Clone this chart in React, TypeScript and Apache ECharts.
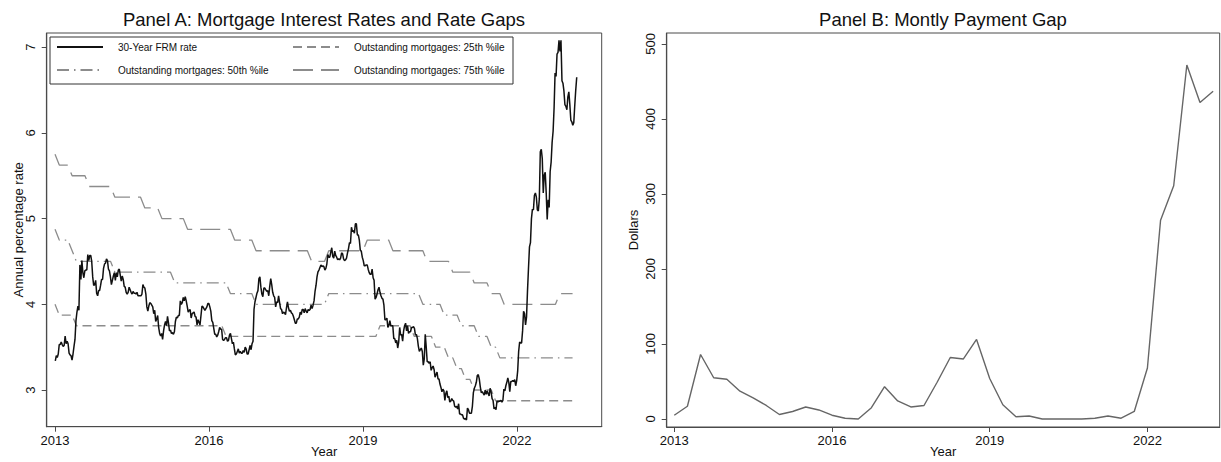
import { useEffect, useRef } from 'react';
import * as echarts from 'echarts';

const FONT = '"Liberation Sans", Arial, sans-serif';

// 30-year FRM, weekly (Thursdays), starting 2013-01-03
const FRM_2013 = [
  3.34, 3.40, 3.38, 3.42, 3.53, 3.53, 3.56, 3.53, 3.51, 3.52, 3.63, 3.54, 3.57,
  3.54, 3.43, 3.41, 3.40, 3.35, 3.42, 3.51, 3.59, 3.81, 3.91, 3.98, 3.93, 4.46,
  4.29, 4.51, 4.37, 4.31, 4.39, 4.40, 4.40, 4.58, 4.51, 4.57, 4.57, 4.50, 4.32,
  4.22, 4.23, 4.28, 4.13, 4.10, 4.16, 4.16, 4.22, 4.29, 4.29, 4.42, 4.47, 4.48,
];
const FRM_2014 = [
  4.53, 4.51, 4.41, 4.39, 4.32, 4.23, 4.28, 4.33, 4.37, 4.28, 4.37, 4.32, 4.40,
  4.41, 4.34, 4.27, 4.33, 4.29, 4.21, 4.20, 4.14, 4.12, 4.14, 4.20, 4.17, 4.14,
  4.12, 4.15, 4.13, 4.13, 4.12, 4.14, 4.10, 4.10, 4.10, 4.10, 4.12, 4.23, 4.20,
  4.19, 4.12, 3.97, 3.92, 3.98, 4.02, 4.01, 3.99, 3.97, 3.89, 3.93, 3.80, 3.83,
];
const FRM_2015 = [
  3.87, 3.73, 3.66, 3.63, 3.66, 3.59, 3.69, 3.76, 3.80, 3.75, 3.86, 3.78, 3.69,
  3.70, 3.66, 3.67, 3.65, 3.68, 3.80, 3.85, 3.84, 3.87, 3.87, 4.04, 4.00, 4.02,
  4.08, 4.04, 4.09, 4.04, 3.98, 3.91, 3.93, 3.94, 3.84, 3.89, 3.90, 3.91, 3.86,
  3.85, 3.76, 3.82, 3.79, 3.76, 3.87, 3.98, 3.97, 3.95, 3.93, 3.95, 3.97, 4.01, 4.01,
];
const FRM_2016 = [
  3.97, 3.92, 3.81, 3.79, 3.72, 3.65, 3.65, 3.62, 3.64, 3.68, 3.73, 3.71, 3.71,
  3.59, 3.58, 3.59, 3.61, 3.61, 3.57, 3.58, 3.64, 3.66, 3.60, 3.54, 3.56, 3.48,
  3.41, 3.42, 3.45, 3.48, 3.43, 3.45, 3.43, 3.43, 3.46, 3.44, 3.50, 3.48, 3.42,
  3.42, 3.47, 3.52, 3.47, 3.54, 3.57, 3.94, 4.03, 4.08, 4.13, 4.16, 4.30, 4.32,
];
const FRM_2017 = [
  4.20, 4.12, 4.09, 4.19, 4.19, 4.17, 4.15, 4.16, 4.10, 4.21, 4.30, 4.23, 4.14,
  4.10, 4.08, 3.97, 4.03, 4.02, 4.10, 4.02, 3.95, 3.94, 3.89, 3.91, 3.90, 3.88,
  3.96, 4.03, 3.96, 3.92, 3.93, 3.90, 3.89, 3.86, 3.82, 3.78, 3.78, 3.83, 3.83,
  3.85, 3.91, 3.88, 3.94, 3.94, 3.90, 3.95, 3.92, 3.90, 3.94, 3.93, 3.94, 3.99,
];
const FRM_2018 = [
  3.95, 3.99, 4.04, 4.15, 4.22, 4.32, 4.38, 4.40, 4.43, 4.46, 4.44, 4.45, 4.44,
  4.40, 4.42, 4.47, 4.58, 4.55, 4.55, 4.61, 4.66, 4.56, 4.54, 4.62, 4.57, 4.55,
  4.52, 4.53, 4.52, 4.54, 4.60, 4.59, 4.53, 4.51, 4.52, 4.54, 4.60, 4.65, 4.72,
  4.71, 4.90, 4.85, 4.86, 4.83, 4.94, 4.94, 4.81, 4.81, 4.75, 4.63, 4.62, 4.55,
];
const FRM_2019 = [
  4.51, 4.45, 4.45, 4.46, 4.46, 4.41, 4.37, 4.35, 4.35, 4.41, 4.31, 4.28, 4.06,
  4.08, 4.12, 4.17, 4.20, 4.14, 4.10, 4.07, 4.06, 3.99, 3.82, 3.82, 3.84, 3.73,
  3.75, 3.81, 3.75, 3.75, 3.75, 3.60, 3.60, 3.55, 3.58, 3.49, 3.56, 3.73, 3.64,
  3.65, 3.57, 3.69, 3.75, 3.78, 3.69, 3.75, 3.66, 3.68, 3.68, 3.73, 3.73, 3.74,
];
const FRM_2020 = [
  3.72, 3.64, 3.65, 3.60, 3.51, 3.45, 3.47, 3.49, 3.45, 3.29, 3.36, 3.65, 3.50,
  3.33, 3.33, 3.31, 3.33, 3.23, 3.26, 3.28, 3.24, 3.15, 3.18, 3.21, 3.13, 3.13,
  3.07, 3.03, 2.98, 3.01, 2.99, 2.88, 2.96, 2.99, 2.91, 2.93, 2.86, 2.87, 2.90,
  2.88, 2.87, 2.81, 2.80, 2.81, 2.78, 2.84, 2.72, 2.72, 2.71, 2.71, 2.67, 2.66, 2.67,
];
const FRM_2021 = [
  2.65, 2.79, 2.77, 2.73, 2.73, 2.73, 2.81, 2.97, 3.02, 3.05, 3.09, 3.17, 3.18,
  3.13, 3.04, 2.97, 2.98, 2.96, 2.94, 3.00, 2.95, 2.99, 2.96, 2.93, 3.02, 2.98,
  2.90, 2.88, 2.78, 2.80, 2.77, 2.87, 2.86, 2.87, 2.87, 2.88, 2.86, 2.88, 3.01,
  2.99, 3.05, 3.09, 3.14, 3.09, 2.98, 3.10, 3.10, 3.11, 3.10, 3.12, 3.05, 3.11,
];
const FRM_2022 = [
  3.22, 3.45, 3.56, 3.55, 3.55, 3.69, 3.92, 3.89, 3.76, 3.85, 4.16, 4.42, 4.67,
  4.72, 5.00, 5.11, 5.10, 5.27, 5.30, 5.25, 5.10, 5.09, 5.23, 5.78, 5.81, 5.70,
  5.30, 5.51, 5.54, 5.30, 4.99, 5.22, 5.13, 5.55, 5.66, 5.89, 6.02, 6.29, 6.70,
  6.66, 6.92, 6.94, 7.08, 6.95, 7.08, 6.61, 6.58, 6.49, 6.33, 6.31, 6.27, 6.42,
];
const FRM_2023 = [6.48, 6.33, 6.15, 6.13, 6.09, 6.12, 6.32, 6.50, 6.65];

// Outstanding mortgage rate percentiles, monthly from Jan 2013
const P25 = [
  4.0, 3.875, 3.875, 3.875, 3.875, 3.75, 3.75, 3.75, 3.75, 3.75, 3.75, 3.75,
  3.75, 3.75, 3.75, 3.75, 3.75, 3.75, 3.75, 3.75, 3.75, 3.75, 3.75, 3.75,
  3.75, 3.75, 3.75, 3.75, 3.75, 3.75, 3.75, 3.75, 3.75, 3.75, 3.75, 3.75,
  3.75, 3.75, 3.75, 3.75, 3.625, 3.625, 3.625, 3.625, 3.625, 3.625, 3.625, 3.625,
  3.625, 3.625, 3.625, 3.625, 3.625, 3.625, 3.625, 3.625, 3.625, 3.625, 3.625, 3.625,
  3.625, 3.625, 3.625, 3.625, 3.625, 3.625, 3.625, 3.625, 3.625, 3.625, 3.625, 3.625,
  3.625, 3.625, 3.625, 3.625, 3.75, 3.75, 3.75, 3.75, 3.75, 3.75, 3.75, 3.75,
  3.625, 3.625, 3.625, 3.625, 3.625, 3.5, 3.5, 3.5, 3.375, 3.375, 3.25, 3.25,
  3.125, 3.125, 3.0, 3.0, 3.0, 3.0, 3.0, 2.875, 2.875, 2.875, 2.875, 2.875,
  2.875, 2.875, 2.875, 2.875, 2.875, 2.875, 2.875, 2.875, 2.875, 2.875, 2.875, 2.875,
  2.875, 2.875,
];
const P50 = [
  4.875, 4.75, 4.75, 4.75, 4.625, 4.5, 4.5, 4.5, 4.5, 4.5, 4.5, 4.5,
  4.5, 4.5, 4.375, 4.375, 4.375, 4.375, 4.375, 4.375, 4.375, 4.375, 4.375, 4.375,
  4.375, 4.375, 4.375, 4.375, 4.25, 4.25, 4.25, 4.25, 4.25, 4.25, 4.25, 4.25,
  4.25, 4.25, 4.25, 4.25, 4.25, 4.125, 4.125, 4.125, 4.125, 4.125, 4.125, 4.0,
  4.0, 4.0, 4.0, 4.0, 4.0, 4.0, 4.0, 4.0, 4.0, 4.0, 4.0, 4.0,
  4.0, 4.0, 4.0, 4.0, 4.125, 4.125, 4.125, 4.125, 4.125, 4.125, 4.125, 4.125,
  4.125, 4.125, 4.125, 4.125, 4.125, 4.125, 4.125, 4.125, 4.125, 4.125, 4.125, 4.125,
  4.125, 4.125, 4.0, 4.0, 4.0, 4.0, 4.0, 3.875, 3.875, 3.875, 3.875, 3.75,
  3.75, 3.75, 3.75, 3.625, 3.625, 3.625, 3.5, 3.5, 3.375, 3.375, 3.375, 3.375,
  3.375, 3.375, 3.375, 3.375, 3.375, 3.375, 3.375, 3.375, 3.375, 3.375, 3.375, 3.375,
  3.375, 3.375,
];
const P75 = [
  5.75, 5.625, 5.625, 5.625, 5.5, 5.5, 5.5, 5.5, 5.375, 5.375, 5.375, 5.375,
  5.375, 5.375, 5.25, 5.25, 5.25, 5.25, 5.25, 5.25, 5.25, 5.125, 5.125, 5.125,
  5.125, 5.0, 5.0, 5.0, 5.0, 5.0, 5.0, 4.875, 4.875, 4.875, 4.875, 4.875,
  4.875, 4.875, 4.875, 4.875, 4.875, 4.875, 4.75, 4.75, 4.75, 4.75, 4.75, 4.625,
  4.625, 4.625, 4.625, 4.625, 4.625, 4.625, 4.625, 4.625, 4.625, 4.625, 4.625, 4.625,
  4.5, 4.5, 4.5, 4.5, 4.625, 4.625, 4.625, 4.625, 4.625, 4.625, 4.625, 4.625,
  4.625, 4.75, 4.75, 4.75, 4.75, 4.75, 4.75, 4.625, 4.625, 4.625, 4.625, 4.625,
  4.625, 4.625, 4.625, 4.5, 4.5, 4.5, 4.5, 4.5, 4.5, 4.375, 4.375, 4.375,
  4.375, 4.375, 4.25, 4.25, 4.25, 4.25, 4.125, 4.125, 4.125, 4.0, 4.0, 4.0,
  4.0, 4.0, 4.0, 4.0, 4.0, 4.0, 4.0, 4.0, 4.0, 4.0, 4.125, 4.125,
  4.125, 4.125,
];

// Monthly payment gap (dollars), quarterly from 2013Q1
const PAYMENT_GAP = [
  5, 17, 86, 55, 53, 37, 28, 18, 6, 10, 16, 12, 5, 1, 0, 15, 43, 24, 16, 18,
  49, 82, 80, 106, 54, 19, 3, 4, 0, 0, 0, 0, 1, 4, 1, 10, 68, 265, 311, 472,
  422, 437,
];

const YEAR_TICKS = [2013, 2016, 2019, 2022];
const RATE_TICKS = [3, 4, 5, 6, 7];
const DOLLAR_TICKS = [0, 100, 200, 300, 400, 500];

const toYear = (t: number) => {
  const y = new Date(t).getUTCFullYear();
  const s = Date.UTC(y, 0, 1);
  return y + (t - s) / (Date.UTC(y + 1, 0, 1) - s);
};

const App = () => {
  const chartDom = useRef<HTMLDivElement | null>(null);

  useEffect(() => {
    if (!chartDom.current) return;
    const myChart = echarts.init(chartDom.current, null, { renderer: 'svg' });

    const frm = [
      ...FRM_2013, ...FRM_2014, ...FRM_2015, ...FRM_2016, ...FRM_2017, ...FRM_2018,
      ...FRM_2019, ...FRM_2020, ...FRM_2021, ...FRM_2022, ...FRM_2023,
    ];
    const t0 = Date.UTC(2013, 0, 3);
    const frmData = frm.map((v, i) => [toYear(t0 + i * 7 * 86400000), v]);
    const monthly = (arr: number[]) => arr.map((v, i) => [2013 + i / 12, v]);
    const gapData = PAYMENT_GAP.map((v, i) => [2013 + i * 0.25, v]);

    const axisColor = '#4a4a4a';
    const labelStyle = { fontFamily: FONT, fontSize: 13, color: '#111' };
    const xAxisBase = (idx: number, min: number, max: number) => ({
      type: 'value',
      gridIndex: idx,
      min,
      max,
      name: 'Year',
      nameLocation: 'middle',
      nameGap: 18,
      nameMoveOverlap: false,
      nameTextStyle: labelStyle,
      axisLine: { show: true, onZero: false, lineStyle: { color: axisColor, width: 1.2 } },
      axisTick: { show: true, length: 5, customValues: YEAR_TICKS, lineStyle: { color: axisColor } },
      axisLabel: { customValues: YEAR_TICKS, margin: 7, ...labelStyle, formatter: (v: number) => String(v) },
      splitLine: { show: false },
    });
    const yAxisBase = (idx: number, min: number, max: number, ticks: number[], name: string, gap: number) => ({
      type: 'value',
      gridIndex: idx,
      min,
      max,
      name,
      nameLocation: 'middle',
      nameRotate: 90,
      nameGap: gap,
      nameMoveOverlap: false,
      nameTextStyle: labelStyle,
      axisLine: { show: true, onZero: false, lineStyle: { color: axisColor, width: 1.2 } },
      axisTick: { show: true, length: 5, customValues: ticks, lineStyle: { color: axisColor } },
      axisLabel: { customValues: ticks, rotate: 90, margin: 10, ...labelStyle },
      splitLine: { show: false },
    });

    const legendItem = (name: string, left: number, top: number) => ({
      data: [name],
      left,
      top,
      padding: 0,
      itemWidth: 46,
      itemHeight: 12,
      selectedMode: false,
      itemStyle: { opacity: 0 },
      textStyle: { fontFamily: FONT, fontSize: 10, color: '#111', padding: [0, 0, 0, 10] },
    });

    const pctStyle = (type: number[]) => ({ color: '#8c8c8c', width: 1.3, type });

    const option = {
      animation: false,
      textStyle: { fontFamily: FONT },
      title: [
        {
          text: 'Panel A: Mortgage Interest Rates and Rate Gaps',
          left: 324, top: 10, textAlign: 'center', padding: 0,
          textStyle: { fontFamily: FONT, fontSize: 18.5, fontWeight: 'normal', color: '#111' },
        },
        {
          text: 'Panel B: Montly Payment Gap',
          left: 943, top: 10, textAlign: 'center', padding: 0,
          textStyle: { fontFamily: FONT, fontSize: 18.5, fontWeight: 'normal', color: '#111' },
        },
      ],
      grid: [
        { left: 46.7, top: 33, width: 555, height: 393.7, show: true, borderColor: axisColor, borderWidth: 1, outerBoundsMode: 'none' },
        { left: 666.7, top: 33, width: 553, height: 394, show: true, borderColor: axisColor, borderWidth: 1, outerBoundsMode: 'none' },
      ],
      xAxis: [xAxisBase(0, 2012.838, 2023.651), xAxisBase(1, 2012.856, 2023.375)],
      yAxis: [
        yAxisBase(0, 2.572, 7.166, RATE_TICKS, 'Annual percentage rate', 22),
        yAxisBase(1, -10.7, 514.6, DOLLAR_TICKS, 'Dollars', 27),
      ],
      legend: [
        legendItem('30-Year FRM rate', 56, 42),
        legendItem('Outstanding mortgages: 25th %ile', 292, 42),
        legendItem('Outstanding mortgages: 50th %ile', 56, 65),
        legendItem('Outstanding mortgages: 75th %ile', 292, 65),
      ],
      graphic: [
        {
          type: 'rect', z: 3,
          shape: { x: 50, y: 37, width: 463, height: 47 },
          style: { fill: '#fff', stroke: '#333', lineWidth: 1 },
        },
      ],
      series: [
        {
          name: 'Outstanding mortgages: 75th %ile', type: 'line', xAxisIndex: 0, yAxisIndex: 0,
          symbol: 'none', data: monthly(P75), lineStyle: pctStyle([20, 8]), color: '#8c8c8c',
        },
        {
          name: 'Outstanding mortgages: 50th %ile', type: 'line', xAxisIndex: 0, yAxisIndex: 0,
          symbol: 'none', data: monthly(P50), lineStyle: pctStyle([12, 5, 1.5, 5]), color: '#8c8c8c',
        },
        {
          name: 'Outstanding mortgages: 25th %ile', type: 'line', xAxisIndex: 0, yAxisIndex: 0,
          symbol: 'none', data: monthly(P25), lineStyle: pctStyle([9, 5]), color: '#8c8c8c',
        },
        {
          name: '30-Year FRM rate', type: 'line', xAxisIndex: 0, yAxisIndex: 0,
          symbol: 'none', data: frmData, lineStyle: { color: '#111', width: 1.5 }, color: '#111',
        },
        {
          name: 'Monthly payment gap', type: 'line', xAxisIndex: 1, yAxisIndex: 1,
          symbol: 'none', data: gapData, lineStyle: { color: '#666', width: 1.4 }, color: '#666',
        },
      ],
    };

    myChart.setOption(option);

    return () => {
      myChart.dispose();
    };
  }, []);

  return (
    <div style={{ position: 'absolute', left: 0, top: 0, width: 1221, height: 462, background: '#fff' }}>
      <div ref={chartDom} style={{ width: '100%', height: '100%' }} />
    </div>
  );
};

export default App;
